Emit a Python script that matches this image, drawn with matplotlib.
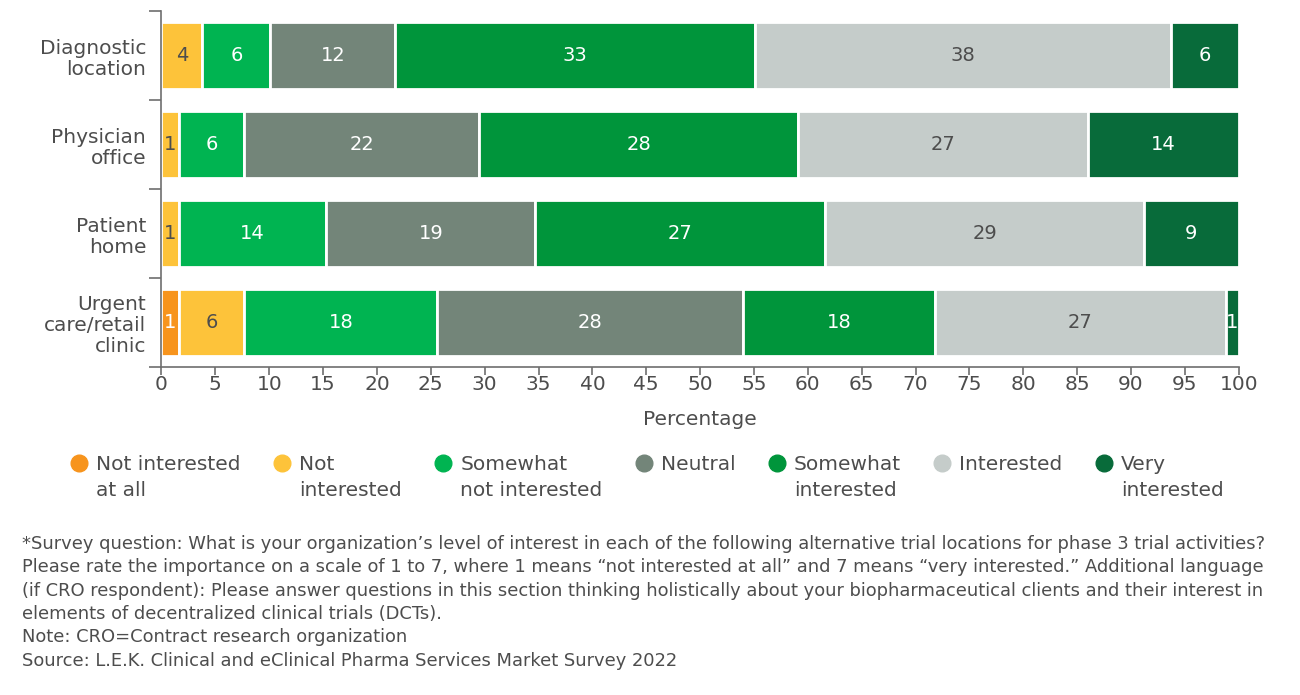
import numpy as np
from matplotlib import pyplot as plt
from matplotlib.legend_handler import HandlerLine2D
from matplotlib.lines import Line2D

plt.rcParams['font.family'] = ['DejaVu Sans']

categories = ['Diagnostic\nlocation', 'Physician\noffice', 'Patient\nhome', 'Urgent\ncare/retail\nclinic']

series_names = ['Not interested\nat all', 'Not\ninterested', 'Somewhat\nnot interested', 'Neutral\n ',
                'Somewhat\ninterested', 'Interested\n ', 'Very\ninterested']

# bar widths (percent)
not_at_all = [0, 0, 0, 1.6]
not_interested = [3.8, 1.6, 1.6, 6.1]
somewhat_not = [6.3, 6.1, 13.7, 17.9]
neutral = [11.6, 21.8, 19.4, 28.4]
somewhat_int = [33.4, 29.6, 26.9, 17.8]
interested = [38.6, 26.9, 29.6, 27.0]
very_int = [6.3, 14.0, 8.8, 1.2]

# the numbers printed on the bars
lab_not_at_all = ['', '', '', '1']
lab_not_interested = ['4', '1', '1', '6']
lab_somewhat_not = ['6', '6', '14', '18']
lab_neutral = ['12', '22', '19', '28']
lab_somewhat_int = ['33', '28', '27', '18']
lab_interested = ['38', '27', '29', '27']
lab_very_int = ['6', '14', '9', '1']

colors = ['#F7941D', '#FDC33A', '#00B451', '#738579', '#00953B', '#C5CCCA', '#086B3A']
label_colors = ['white', '#4D4D4D', 'white', 'white', 'white', '#4D4D4D', 'white']

values = [not_at_all, not_interested, somewhat_not, neutral, somewhat_int, interested, very_int]
labels = [lab_not_at_all, lab_not_interested, lab_somewhat_not, lab_neutral,
          lab_somewhat_int, lab_interested, lab_very_int]

text_col = '#4D4D4D'
axis_col = '#6E6E6E'

fig = plt.figure(figsize=(13, 6.95), dpi=100)
ax = fig.add_axes([0.1242, 0.472, 0.8287, 0.512])

y = np.arange(len(categories))
left = np.zeros(len(categories))
for vals, labs, c, lc in zip(values, labels, colors, label_colors):
    bars = ax.barh(y, vals, left=left, height=0.75, color=c, edgecolor='white', linewidth=2)
    ax.bar_label(bars, labels=labs, label_type='center', color=lc, fontsize=14)
    left += np.array(vals)

ax.set_xlim(0, 100)
ax.set_ylim(3.5, -0.5)
ax.set_xticks(np.arange(0, 101, 5))
ax.set_yticks(y)
ax.set_yticklabels(categories, fontsize=14.5, color=text_col, linespacing=1.15)
ax.set_yticks(np.arange(-0.5, 4, 1), minor=True)
ax.tick_params(axis='y', which='major', length=0, pad=11)
ax.tick_params(axis='y', which='minor', length=9, width=1.2, color=axis_col)
ax.tick_params(axis='x', length=6, width=1.2, color=axis_col, labelsize=14.5, labelcolor=text_col, pad=0)
ax.set_xlabel('Percentage', fontsize=14.5, color=text_col, labelpad=11)

for s in ['top', 'right']:
    ax.spines[s].set_visible(False)
for s in ['left', 'bottom']:
    ax.spines[s].set_color(axis_col)
    ax.spines[s].set_linewidth(1.2)

# legend: markers sit on the first line of each label
shift = 10.6


def raise_marker(handle, orig):
    handle.update_from(orig)
    handle.set_ydata(np.asarray(handle.get_ydata()) + shift)


handles = [Line2D([], [], linestyle='none', marker='o', markersize=12, color=c) for c in colors]
leg = fig.legend(handles, series_names, loc='upper left', bbox_to_anchor=(0.053, 1 - 455 / 695),
                 ncol=7, frameon=False, fontsize=14.5, handlelength=1.0, handletextpad=0.35,
                 columnspacing=1.55, borderpad=0, borderaxespad=0,
                 handler_map={Line2D: HandlerLine2D(update_func=raise_marker)})
for t in leg.get_texts():
    t.set_color(text_col)
    t.set_linespacing(1.47)

footnote = ('*Survey question: What is your organization’s level of interest in each of the following alternative trial locations for phase 3 trial activities?\n'
            'Please rate the importance on a scale of 1 to 7, where 1 means “not interested at all” and 7 means “very interested.” Additional language\n'
            '(if CRO respondent): Please answer questions in this section thinking holistically about your biopharmaceutical clients and their interest in\n'
            'elements of decentralized clinical trials (DCTs).\n'
            'Note: CRO=Contract research organization\n'
            'Source: L.E.K. Clinical and eClinical Pharma Services Market Survey 2022')
fig.text(0.017, 1 - 535 / 695, footnote, fontsize=12.9, color=text_col, va='top', ha='left', linespacing=1.38)

plt.savefig('out.png', dpi=100)
plt.close()
